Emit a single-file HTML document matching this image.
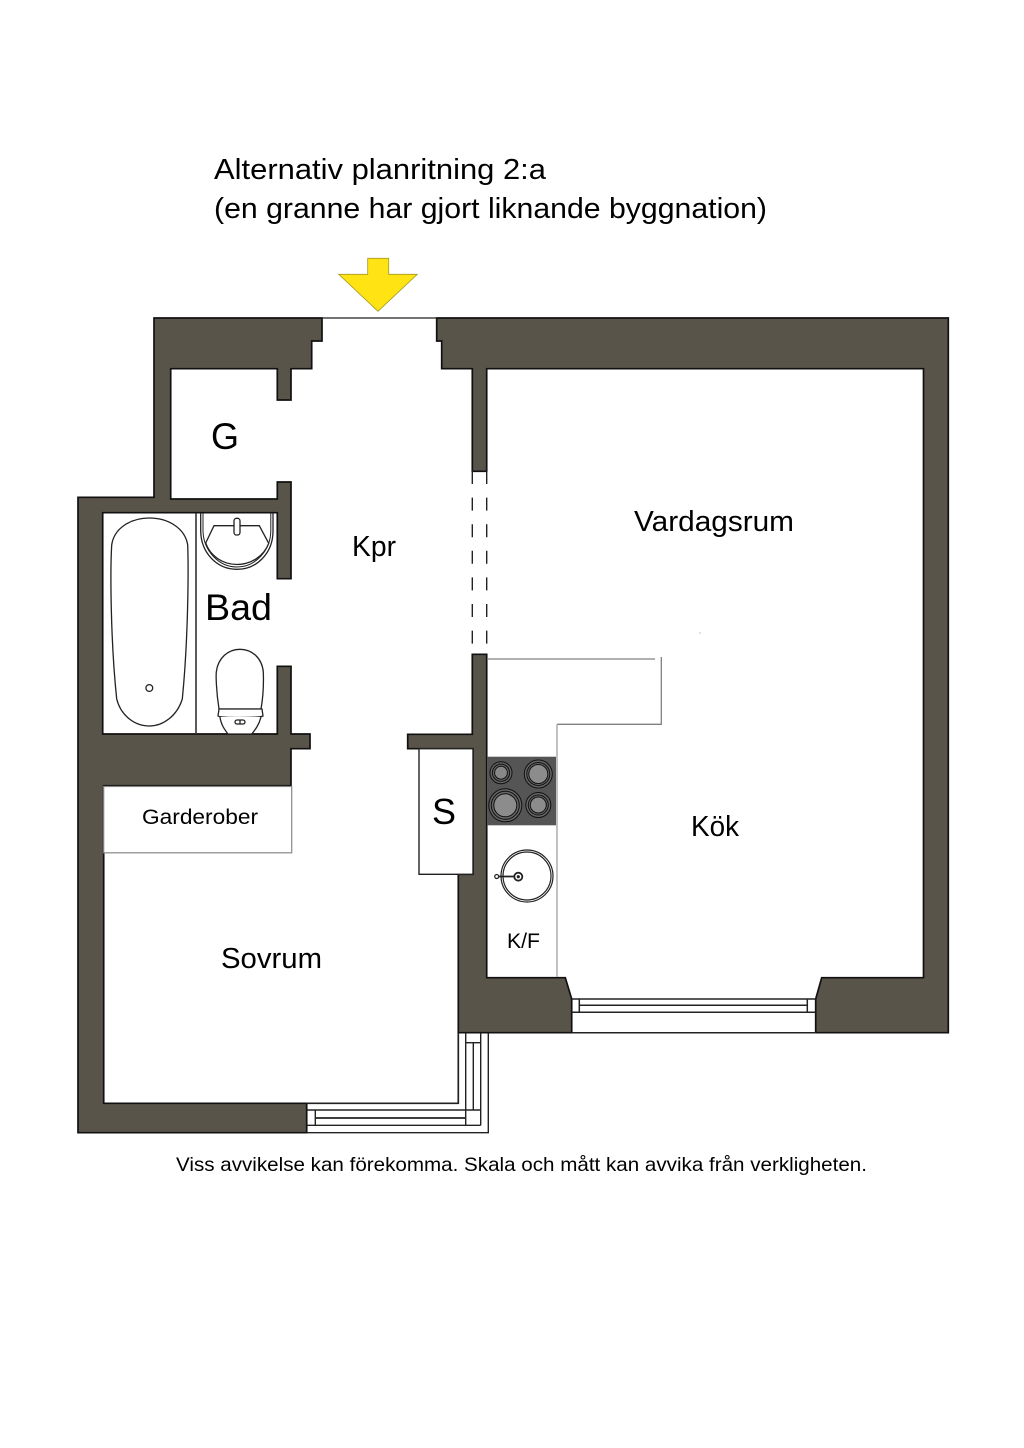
<!DOCTYPE html>
<html lang="sv">
<head>
<meta charset="utf-8">
<title>Alternativ planritning 2:a</title>
<style>
html,body{margin:0;padding:0;background:#fff;width:1024px;height:1448px;overflow:hidden}
svg{display:block}
text{font-family:"Liberation Sans",sans-serif;fill:#000}
</style>
</head>
<body>
<svg width="1024" height="1448" viewBox="0 0 1024 1448" xmlns="http://www.w3.org/2000/svg">
<rect width="1024" height="1448" fill="#fff"/>

<text x="214" y="179" font-size="29" textLength="332" lengthAdjust="spacingAndGlyphs">Alternativ planritning 2:a</text>
<text x="214" y="218" font-size="29" textLength="553" lengthAdjust="spacingAndGlyphs">(en granne har gjort liknande byggnation)</text>

<polygon points="367.7,258.3 388.7,258.3 388.7,274.3 417.3,274.3 378,311.3 338.7,274.3 367.7,274.3" fill="#ffe312" stroke="#a39a20" stroke-width="0.8"/>

<!-- Walls -->
<g fill="#59544a" stroke="#111" stroke-width="1.7" stroke-linejoin="miter">
<path d="M154,318 H322 V341 H311.7 V368.7 H291 V400 H277.3 V368.7 H170.7 V499 H277.3 V482 H291 V578.7 H277.3 V512.7 H102.7 V734 H277.3 V666.3 H291 V734 H310 V748.7 H291 V785.7 H103.7 V1103.3 H306.7 V1132.7 H78 V497.3 H154 Z"/>
<path d="M436.7,318 H948.3 V1032.7 H815.7 V999 L821.7,977.7 H923.5 V368.7 H486.7 V471.3 H472.3 V368.7 H441.7 V341 H436.7 Z"/>
<path d="M472.3,654.3 H486.7 V977.7 H565.3 L571.7,999 V1032.7 H458.3 V874.3 H473 V748.7 H407.7 V734.3 H472.3 Z"/>
</g>

<!-- Door threshold -->
<line x1="322" y1="318" x2="437" y2="318" stroke="#222" stroke-width="1.2"/>

<!-- Dashed opening -->
<g stroke="#222" stroke-width="1.4" stroke-dasharray="13 13.6" fill="none">
<line x1="472.3" y1="471" x2="472.3" y2="654"/>
<line x1="486.7" y1="471" x2="486.7" y2="654"/>
</g>

<!-- South window -->
<g fill="none" stroke="#222" stroke-width="1.5">
<path d="M571.7,999 H815.7"/>
<path d="M571.7,1012.3 H815.7"/>
<path d="M579.3,1005.3 H807.3"/>
<path d="M579.3,999 V1012.3"/>
<path d="M807.3,999 V1012.3"/>
<path d="M571.7,1032.7 H815.7"/>
</g>

<!-- South-west window -->
<g fill="none" stroke="#222" stroke-width="1.4">
<path d="M458.3,1033 V1103.3 H306.7" stroke-width="1.7"/>
<path d="M465.7,1033 V1125.3"/>
<path d="M480.7,1033 V1125.3"/>
<path d="M488.3,1033 V1132.7 H306.7"/>
<path d="M306.7,1110 H480.7"/>
<path d="M306.7,1125.3 H480.7"/>
<path d="M315.3,1110 V1125.3"/>
<path d="M465.7,1042.7 H480.7"/>
<path d="M473.3,1042.7 V1110"/>
<path d="M315.3,1118 H465.7" stroke-width="1.7"/>
</g>

<!-- Bath -->
<line x1="196" y1="513" x2="196" y2="734" stroke="#333" stroke-width="1.6"/>
<path d="M111.7,545 C114,528 131,518 149.3,518 C168,518 185,528 187.7,545 C188.6,570 188.2,640 182.3,699 C177,716 163,726 149.3,726 C135,726 121,716 116.7,699 C110.5,640 110.2,570 111.7,545 Z" fill="#fff" stroke="#222" stroke-width="1.3"/>
<circle cx="149.3" cy="688" r="3.4" fill="#fff" stroke="#222" stroke-width="1.3"/>

<!-- Basin -->
<g fill="none" stroke="#222" stroke-width="1.3">
<path d="M200.7,513 V531 C201,553 217,569.3 237,569.3 C257,569.3 273,553 273,531 V513"/>
<path d="M203,513 V531 C203.5,551 219,567 237,567 C255,567 270.5,551 270.8,531 V513" stroke-width="1"/>
<path d="M214,525.7 H259.3 L268.7,543.3 C264,556 251,564.5 237,564.5 C223,564.5 210,556 205.7,543 Z" fill="#fff"/>
<rect x="234" y="518.3" width="6" height="16.7" rx="2.5" fill="#fff"/>
</g>

<!-- Toilet -->
<g fill="#fff" stroke="#222" stroke-width="1.3">
<path d="M219,709 C216,690 216,675 216.3,672 C218,658 228,649.3 240,649.3 C252,649.3 262,658 263.3,672 C263.6,680 263.5,695 261,709 Z"/>
<path d="M219,709 H262 L263,716 C259,718 221,718 218,716 Z"/>
<path d="M220,717 C221,725 225,730 228,734 H251.7 C255,730 259,725 261,717"/>
<rect x="235" y="720" width="10" height="4" rx="2"/>
<line x1="240" y1="720" x2="240" y2="724"/>
</g>

<!-- Garderober -->
<rect x="103.7" y="786.5" width="188" height="66.3" fill="#fff" stroke="#888" stroke-width="1.2"/>

<!-- S closet -->
<rect x="419" y="748.7" width="54" height="125.6" fill="#fff" stroke="#222" stroke-width="1.4"/>

<!-- Kitchen counter -->
<g fill="none" stroke="#808080" stroke-width="1.3">
<path d="M487,659 H655"/>
<path d="M661.3,657 V724.3 H557"/>
<path d="M557,724.3 V977" stroke="#a0a0a0"/>
</g>
<rect x="699.5" y="632.5" width="1" height="1" fill="#888"/>

<!-- Cooktop -->
<rect x="487" y="756.7" width="69" height="68.6" fill="#555"/>
<g stroke="#111" stroke-width="1">
<circle cx="501" cy="772.7" r="11" fill="#666"/>
<circle cx="501" cy="772.7" r="8.6" fill="#666"/>
<circle cx="501" cy="772.7" r="6.4" fill="#888"/>
<circle cx="538.3" cy="774" r="14" fill="#666"/>
<circle cx="538.3" cy="774" r="11.5" fill="#666"/>
<circle cx="538.3" cy="774" r="9.5" fill="#8c8c8c"/>
<circle cx="505.3" cy="805.3" r="16.5" fill="#666"/>
<circle cx="505.3" cy="805.3" r="14" fill="#666"/>
<circle cx="505.3" cy="805.3" r="11.5" fill="#8c8c8c"/>
<circle cx="538.3" cy="805" r="12.5" fill="#666"/>
<circle cx="538.3" cy="805" r="10" fill="#666"/>
<circle cx="538.3" cy="805" r="8" fill="#8c8c8c"/>
</g>

<!-- Kitchen sink -->
<g fill="#fff" stroke="#222" stroke-width="1.2">
<circle cx="527" cy="876" r="26"/>
<circle cx="527" cy="876" r="24"/>
<line x1="497" y1="876.5" x2="516" y2="876.5" stroke-width="1.8"/>
<circle cx="496.7" cy="876.5" r="2"/>
<circle cx="518.3" cy="876.7" r="4" stroke-width="1.8"/>
<circle cx="518.3" cy="876.7" r="1" fill="#222"/>
</g>

<!-- Labels -->
<text x="211" y="449" font-size="37" textLength="28" lengthAdjust="spacingAndGlyphs">G</text>
<text x="352" y="556" font-size="29" textLength="44" lengthAdjust="spacingAndGlyphs">Kpr</text>
<text x="205" y="620" font-size="37" textLength="67" lengthAdjust="spacingAndGlyphs">Bad</text>
<text x="634" y="531" font-size="29" textLength="160" lengthAdjust="spacingAndGlyphs">Vardagsrum</text>
<text x="142" y="824" font-size="21" textLength="116" lengthAdjust="spacingAndGlyphs">Garderober</text>
<text x="432" y="824" font-size="36" textLength="24" lengthAdjust="spacingAndGlyphs">S</text>
<text x="691" y="836" font-size="29" textLength="48" lengthAdjust="spacingAndGlyphs">Kök</text>
<text x="507" y="948" font-size="21" textLength="33" lengthAdjust="spacingAndGlyphs">K/F</text>
<text x="221" y="968" font-size="29" textLength="101" lengthAdjust="spacingAndGlyphs">Sovrum</text>
<text x="176" y="1171" font-size="19.5" textLength="691" lengthAdjust="spacingAndGlyphs">Viss avvikelse kan förekomma. Skala och mått kan avvika från verkligheten.</text>
</svg>
</body>
</html>
